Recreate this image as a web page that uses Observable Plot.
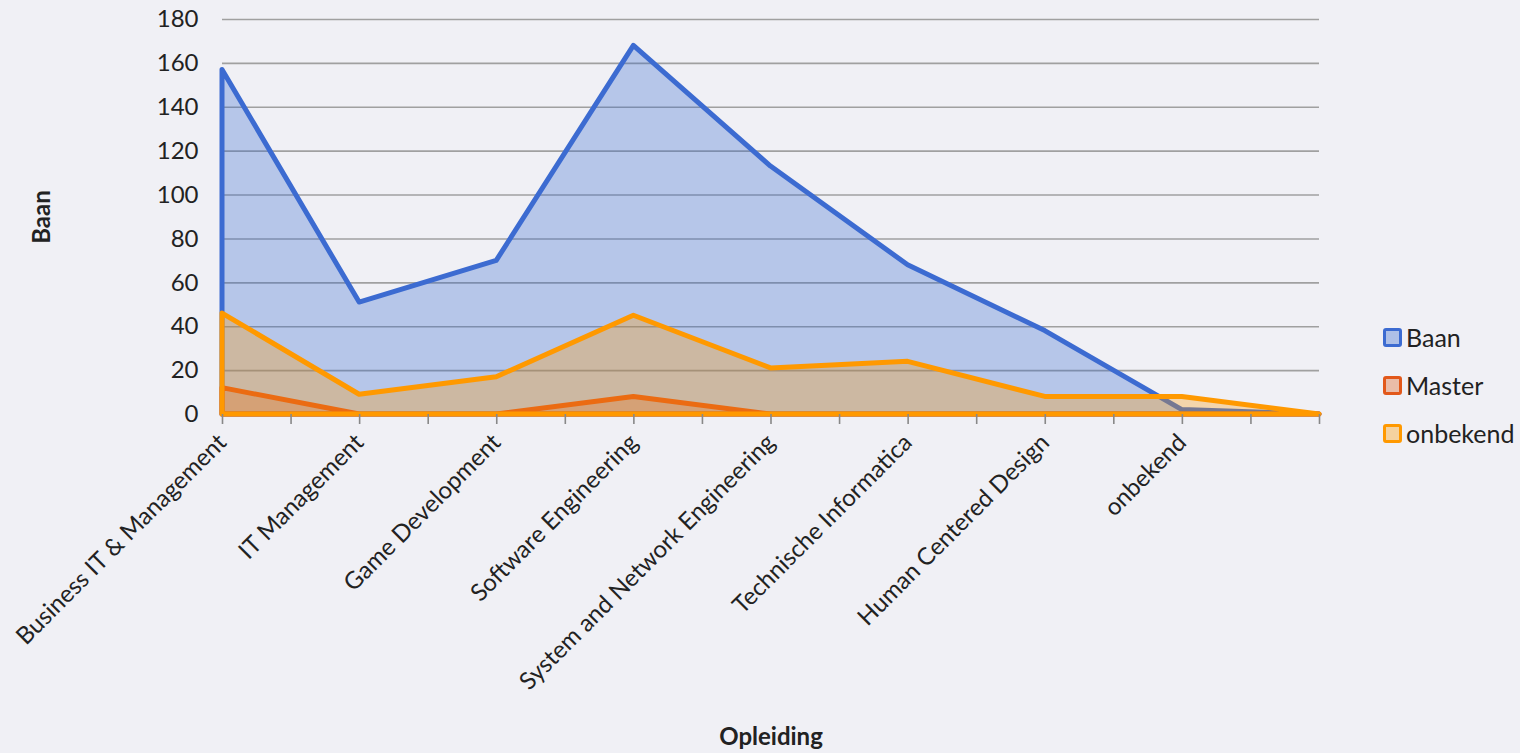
<!DOCTYPE html>
<html>
<head>
<meta charset="utf-8">
<script src="https://cdn.jsdelivr.net/npm/d3@7"></script>
<script src="https://cdn.jsdelivr.net/npm/@observablehq/plot@0.6"></script>
<style>
  html, body { margin: 0; padding: 0; background: #f0f0f5; }
  #wrap { position: relative; width: 1520px; height: 753px; font-family: Lato, "Liberation Sans", sans-serif; }
  #legend { position: absolute; left: 1383px; top: 313px; font-size: 25px; color: #222; }
  .item { display: flex; align-items: center; height: 48px; }
  .sw { width: 13px; height: 13px; border-radius: 3px; border: 3px solid; margin-right: 4px; }
</style>
</head>
<body>
<div id="wrap"></div>
<script>
const categories = ["Business IT & Management", "IT Management", "Game Development", "Software Engineering", "System and Network Engineering", "Technische Informatica", "Human Centered Design", "onbekend", ""];
const baan = [157, 51, 70, 168, 113, 68, 38, 2, 0];
const master = [12, 0, 0, 8, 0, 0, 0, 0, 0];
const onbekend = [46, 9, 17, 45, 21, 24, 8, 8, 0];
const series = ["Baan", "Master", "onbekend"];
const colors = ["#3c6bd1", "#e2581a", "#ff9900"];
const fills = ["#3366cc", "#e05a1a", "#ff9900"];
const yTicks = [0, 20, 40, 60, 80, 100, 120, 140, 160, 180];

const rows = categories.map((c, i) => ({i, cat: c, baan: baan[i], master: master[i], onbekend: onbekend[i]}));
const xTicks = d3.range(0, categories.length - 0.99, 0.5);

const chart = Plot.plot({
  width: 1380,
  height: 753,
  marginLeft: 222,
  marginRight: 61,
  marginTop: 19,
  marginBottom: 339,
  style: {background: "transparent", fontFamily: "Lato, 'Liberation Sans', sans-serif", fontSize: "24px", color: "#222"},
  x: {type: "linear", domain: [0, categories.length - 1]},
  y: {domain: [0, 180]},
  marks: [
    Plot.gridY(yTicks, {stroke: "#a0a0a0", strokeOpacity: 1, strokeWidth: 1.6}),
    Plot.areaY(rows, {x: "i", y: "baan", fill: fills[0], fillOpacity: 0.3, stroke: colors[0], strokeWidth: 5, strokeLinejoin: "round"}),
    Plot.areaY(rows, {x: "i", y: "master", fill: fills[1], fillOpacity: 0.3, stroke: colors[1], strokeWidth: 5, strokeLinejoin: "round"}),
    Plot.areaY(rows, {x: "i", y: "onbekend", fill: fills[2], fillOpacity: 0.3, stroke: colors[2], strokeWidth: 5, strokeLinejoin: "round"}),
    Plot.axisY({ticks: yTicks, tickSize: 0, tickPadding: 24, label: "Baan", labelAnchor: "center", labelOffset: 190, labelArrow: "none"}),
    Plot.axisX({ticks: xTicks, tickFormat: d => Number.isInteger(d) ? categories[d] : "", tickRotate: -45, tickSize: 10, tickPadding: 14, stroke: "#888", strokeWidth: 1.6, label: "Opleiding", labelAnchor: "center", labelOffset: 330, labelArrow: "none"})
  ]
});
d3.select(chart).selectAll("[aria-label='y-axis label'] text, [aria-label='x-axis label'] text").style("font-weight", "bold");
document.getElementById("wrap").appendChild(chart);

const legend = d3.select("#wrap").append("div").attr("id", "legend");
series.forEach((s, k) => {
  const it = legend.append("div").attr("class", "item");
  it.append("div").attr("class", "sw").style("border-color", colors[k]).style("background", d3.interpolateRgb("#f0f0f5", fills[k])(0.35));
  it.append("span").text(s);
});
</script>
</body>
</html>
